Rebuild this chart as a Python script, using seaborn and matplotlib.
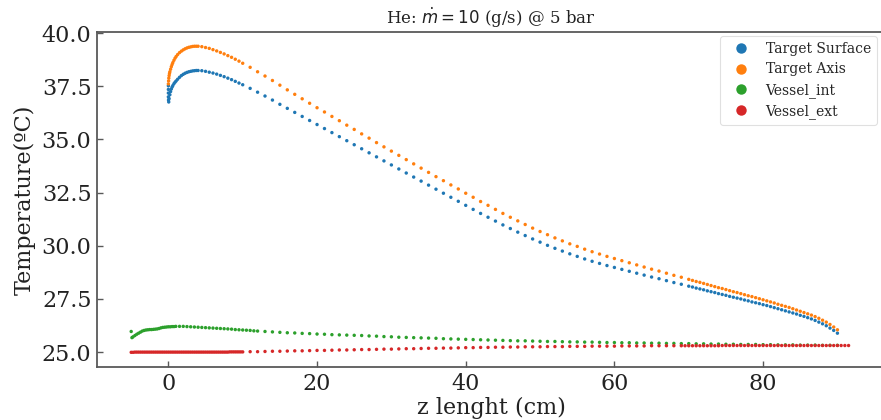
import matplotlib
matplotlib.use("Agg")
import matplotlib.pyplot as plt
import seaborn as sns
import pandas as pd

# ---------------- data ----------------
labels = ["Target Surface", "Target Axis", "Vessel_int", "Vessel_ext"]
colors = ["#1f77b4", "#ff7f0e", "#2ca02c", "#d62728"]

surface_z = [0, 0, 0, 0, 0.02, 0.05, 0.1, 0.2, 0.3, 0.4, 0.5, 0.6, 0.75, 0.9, 1.05,
             1.25, 1.5, 1.75, 2.0, 2.25, 2.5, 2.75, 3.0, 3.25, 3.5, 3.75,
             4, 4.5, 5, 5.5, 6, 6.5, 7, 7.5, 8, 8.5, 9, 9.5, 10,
             11, 12, 13, 14, 15, 16, 17, 18, 19, 20, 21, 22, 23, 24, 25, 26, 27, 28, 29, 30,
             31, 32, 33, 34, 35, 36, 37, 38, 39, 40, 41, 42, 43, 44, 45, 46, 47, 48, 49, 50,
             51, 52, 53, 54, 55, 56, 57, 58, 59, 60, 61, 62, 63, 64, 65, 66, 67, 68, 69, 70,
             70.5, 71, 71.5, 72, 72.5, 73, 73.5, 74, 74.5, 75, 75.5, 76, 76.5, 77, 77.5, 78,
             78.5, 79, 79.5, 80, 80.5, 81, 81.5, 82, 82.5, 83, 83.5, 84, 84.5, 85, 85.5, 86,
             86.5, 87, 87.5, 88, 88.5, 89, 89.5, 90]
surface_T = [37.52, 37.35, 37.18, 37.00, 36.85, 36.76, 36.92, 37.10, 37.25, 37.37, 37.46, 37.53,
             37.62, 37.69, 37.75, 37.83, 37.92, 38.00, 38.06, 38.11, 38.15, 38.18, 38.20, 38.22,
             38.23, 38.24,
             38.24, 38.23, 38.20, 38.16, 38.12, 38.07, 38.01, 37.95, 37.88, 37.81, 37.73, 37.65, 37.57,
             37.40, 37.22, 37.04, 36.85, 36.65, 36.46, 36.27, 36.08, 35.89, 35.70, 35.51, 35.32,
             35.13, 34.94, 34.75, 34.56, 34.37, 34.18, 33.99, 33.80,
             33.61, 33.42, 33.23, 33.04, 32.85, 32.66, 32.47, 32.28, 32.09, 31.90, 31.71, 31.52,
             31.34, 31.16, 30.98, 30.81, 30.64, 30.48, 30.32, 30.17,
             30.02, 29.88, 29.75, 29.62, 29.50, 29.38, 29.27, 29.17, 29.07, 28.98, 28.89, 28.80,
             28.71, 28.62, 28.53, 28.45, 28.36, 28.27, 28.19, 28.10,
             28.06, 28.01, 27.97, 27.93, 27.88, 27.84, 27.80, 27.75, 27.71, 27.67, 27.62, 27.58,
             27.54, 27.50, 27.45, 27.41, 27.36, 27.32, 27.28, 27.23, 27.19, 27.14, 27.09, 27.04,
             26.99, 26.94, 26.89, 26.84, 26.79, 26.73, 26.68, 26.62, 26.56, 26.49, 26.41, 26.33,
             26.24, 26.13, 26.02, 25.89]

axis_z = [0, 0.03, 0.06, 0.1, 0.15, 0.2, 0.3, 0.4, 0.5, 0.6, 0.75, 0.9, 1.05, 1.25, 1.5,
          1.75, 2.0, 2.25, 2.5, 2.75, 3.0, 3.25, 3.5, 3.75,
          4, 4.5, 5, 5.5, 6, 6.5, 7, 7.5, 8, 8.5, 9, 9.5, 10,
          11, 12, 13, 14, 15, 16, 17, 18, 19, 20, 21, 22, 23, 24, 25, 26, 27, 28, 29, 30,
          31, 32, 33, 34, 35, 36, 37, 38, 39, 40, 41, 42, 43, 44, 45, 46, 47, 48, 49, 50,
          51, 52, 53, 54, 55, 56, 57, 58, 59, 60, 61, 62, 63, 64, 65, 66, 67, 68, 69, 70,
          70.5, 71, 71.5, 72, 72.5, 73, 73.5, 74, 74.5, 75, 75.5, 76, 76.5, 77, 77.5, 78,
          78.5, 79, 79.5, 80, 80.5, 81, 81.5, 82, 82.5, 83, 83.5, 84, 84.5, 85, 85.5, 86,
          86.5, 87, 87.5, 88, 88.5, 89, 89.5, 90]
axis_T = [37.61, 37.75, 37.88, 38.00, 38.10, 38.18, 38.30, 38.42, 38.52, 38.61, 38.72, 38.82,
          38.90, 38.99, 39.08, 39.15, 39.21, 39.26, 39.30, 39.33, 39.35, 39.37, 39.38, 39.38,
          39.38, 39.36, 39.32, 39.28, 39.22, 39.16, 39.09, 39.02, 38.94, 38.86, 38.77, 38.68, 38.58,
          38.39, 38.18, 37.98, 37.77, 37.55, 37.33, 37.12, 36.91, 36.70, 36.49, 36.29, 36.08,
          35.88, 35.67, 35.47, 35.26, 35.06, 34.85, 34.65, 34.45,
          34.25, 34.05, 33.85, 33.65, 33.45, 33.25, 33.06, 32.86, 32.67, 32.47, 32.28, 32.08,
          31.90, 31.71, 31.52, 31.34, 31.17, 31.00, 30.83, 30.67,
          30.52, 30.37, 30.23, 30.09, 29.97, 29.84, 29.72, 29.61, 29.50, 29.40, 29.30, 29.20,
          29.10, 29.00, 28.90, 28.81, 28.71, 28.61, 28.52, 28.42,
          28.37, 28.32, 28.28, 28.23, 28.18, 28.13, 28.08, 28.03, 27.99, 27.94, 27.89, 27.84,
          27.80, 27.75, 27.70, 27.65, 27.61, 27.56, 27.51, 27.46, 27.41, 27.36, 27.31, 27.25,
          27.20, 27.15, 27.10, 27.04, 26.98, 26.92, 26.86, 26.80, 26.74, 26.67, 26.59, 26.50,
          26.41, 26.30, 26.18, 26.05]

vint_z = [-5.0, -4.9, -4.75, -4.5, -4.25, -4.0, -3.75, -3.5, -3.25, -3.0,
          -2.75, -2.5, -2.25, -2.0, -1.75, -1.5, -1.25, -1.0, -0.75, -0.5,
          -0.25, 0, 0.25, 0.5, 0.75, 1.0, 1.5, 2.0, 2.5, 3.0,
          3.5, 4, 4.5, 5, 5.5, 6, 6.5, 7, 7.5, 8,
          8.5, 9, 9.5, 10, 10.5, 11, 11.5, 12, 13, 14,
          15, 16, 17, 18, 19, 20, 21, 22, 23, 24,
          25, 26, 27, 28, 29, 30, 31, 32, 33, 34,
          35, 36, 37, 38, 39, 40, 41, 42, 43, 44,
          45, 46, 47, 48, 49, 50, 51, 52, 53, 54,
          55, 56, 57, 58, 59, 60, 61, 62, 63, 64,
          65, 66, 67, 68, 69, 70, 71, 72, 73, 74,
          75, 76, 77, 78, 79, 80, 81, 82, 83, 84,
          85, 86, 87, 88, 89, 90]
vint_T = [25.97, 25.68, 25.72, 25.78, 25.84, 25.89, 25.94, 25.99, 26.02, 26.04,
          26.05, 26.06, 26.06, 26.07, 26.08, 26.09, 26.11, 26.14, 26.16, 26.17,
          26.18, 26.19, 26.19, 26.20, 26.20, 26.21, 26.21, 26.21, 26.20, 26.19,
          26.18, 26.17, 26.16, 26.15, 26.14, 26.13, 26.12, 26.11, 26.10, 26.09,
          26.08, 26.06, 26.05, 26.04, 26.03, 26.02, 26.00, 25.99, 25.97, 25.95,
          25.93, 25.91, 25.90, 25.88, 25.87, 25.85, 25.84, 25.82, 25.81, 25.80,
          25.79, 25.78, 25.76, 25.75, 25.73, 25.72, 25.70, 25.69, 25.68, 25.67,
          25.66, 25.65, 25.63, 25.62, 25.61, 25.60, 25.59, 25.58, 25.57, 25.56,
          25.55, 25.54, 25.53, 25.53, 25.52, 25.51, 25.50, 25.50, 25.49, 25.48,
          25.48, 25.47, 25.47, 25.46, 25.45, 25.45, 25.44, 25.44, 25.43, 25.43,
          25.42, 25.42, 25.41, 25.41, 25.40, 25.40, 25.39, 25.39, 25.38, 25.38,
          25.37, 25.37, 25.36, 25.36, 25.36, 25.35, 25.35, 25.34, 25.34, 25.34,
          25.33, 25.33, 25.33, 25.32, 25.32, 25.32]

vext_z = [-5.0, -4.75, -4.5, -4.25, -4.0, -3.75, -3.5, -3.25, -3.0, -2.75, -2.5, -2.25,
          -2.0, -1.75, -1.5, -1.25, -1.0, -0.75, -0.5, -0.25, 0, 0.25, 0.5, 0.75,
          1.0, 1.25, 1.5, 1.75, 2.0, 2.25, 2.5, 2.75, 3.0, 3.25, 3.5, 3.75,
          4.0, 4.25, 4.5, 4.75, 5.0, 5.25, 5.5, 5.75, 6.0, 6.25, 6.5, 6.75,
          7.0, 7.25, 7.5, 7.75, 8.0, 8.25, 8.5, 8.75, 9.0, 9.25, 9.5, 9.75,
          10.0,
          11, 12, 13, 14, 15, 16, 17, 18, 19, 20,
          21, 22, 23, 24, 25, 26, 27, 28, 29, 30,
          31, 32, 33, 34, 35, 36, 37, 38, 39, 40,
          41, 42, 43, 44, 45, 46, 47, 48, 49, 50,
          51, 52, 53, 54, 55, 56, 57, 58, 59, 60,
          61, 62, 63, 64, 65, 66, 67, 68, 69,
          69.5, 70, 70.5, 71, 71.5, 72, 72.5, 73, 73.5, 74,
          74.5, 75, 75.5, 76, 76.5, 77, 77.5, 78, 78.5, 79,
          79.5, 80, 80.5, 81, 81.5, 82, 82.5, 83, 83.5, 84,
          84.5, 85, 85.5, 86, 86.5, 87, 87.5, 88, 88.5, 89,
          89.5, 90, 90.5, 91, 91.5]
vext_T = [24.99, 24.99, 25.00, 25.00, 25.00, 25.00, 25.00, 25.00, 25.00, 25.00, 25.00, 25.00,
          25.00, 25.00, 25.00, 25.00, 25.00, 25.00, 25.00, 25.00, 25.00, 25.00, 25.00, 25.00,
          25.00, 25.00, 25.00, 25.00, 25.00, 25.00, 25.00, 25.00, 25.00, 25.00, 25.00, 25.00,
          25.00, 25.00, 25.00, 25.00, 25.00, 25.00, 25.00, 25.00, 25.00, 25.00, 25.00, 25.00,
          25.00, 25.00, 25.00, 25.00, 25.00, 25.01, 25.01, 25.01, 25.01, 25.01, 25.01, 25.01,
          25.01,
          25.02, 25.02, 25.03, 25.04, 25.04, 25.05, 25.06, 25.06, 25.07, 25.08,
          25.08, 25.09, 25.10, 25.10, 25.11, 25.12, 25.12, 25.13, 25.14, 25.14,
          25.15, 25.16, 25.16, 25.17, 25.18, 25.18, 25.19, 25.19, 25.20, 25.21,
          25.21, 25.22, 25.22, 25.23, 25.23, 25.24, 25.24, 25.25, 25.25, 25.25,
          25.26, 25.26, 25.26, 25.27, 25.27, 25.27, 25.28, 25.28, 25.28, 25.28,
          25.29, 25.29, 25.29, 25.29, 25.30, 25.30, 25.30, 25.30, 25.30,
          25.30, 25.30, 25.30, 25.30, 25.30, 25.30, 25.30, 25.30, 25.30, 25.30,
          25.31, 25.31, 25.31, 25.31, 25.31, 25.31, 25.31, 25.31, 25.31, 25.31,
          25.31, 25.31, 25.31, 25.31, 25.31, 25.31, 25.31, 25.31, 25.31, 25.31,
          25.31, 25.31, 25.31, 25.31, 25.31, 25.31, 25.31, 25.31, 25.31, 25.31,
          25.31, 25.31, 25.31, 25.31, 25.31]

title = r"He: $\dot{m} = 10$ (g/s) @ 5 bar"
xlabel = "z lenght (cm)"
ylabel = "Temperature(ºC)"
yticks = [25.0, 27.5, 30.0, 32.5, 35.0, 37.5, 40.0]
xticks = [0, 20, 40, 60, 80]

# ---------------- build table ----------------
frames = []
for name, z, T in zip(labels, [surface_z, axis_z, vint_z, vext_z],
                      [surface_T, axis_T, vint_T, vext_T]):
    frames.append(pd.DataFrame({"z": z, "T": T, "series": name}))
df = pd.concat(frames, ignore_index=True)

# ---------------- plot ----------------
sns.set_style("white")
plt.rcParams["font.family"] = ["DejaVu Serif"]
plt.rcParams["mathtext.fontset"] = "dejavusans"

fig = plt.figure(figsize=(8.81, 4.20), dpi=100)
ax = fig.add_axes([97 / 881, 53 / 420, (885 - 97) / 881, (367 - 32) / 420])

sns.scatterplot(data=df, x="z", y="T", hue="series", hue_order=labels,
                palette=colors, s=6, linewidth=0, ax=ax, legend=True)

ax.set_xlim(-9.6, 96.4)
ax.set_ylim(24.3, 40.05)
ax.set_xticks(xticks)
ax.set_yticks(yticks)
ax.set_yticklabels([f"{v:.1f}" for v in yticks])
ax.tick_params(direction="in", length=4.5, width=1, colors="0.35",
               labelcolor="#222222", labelsize=16, bottom=True, left=True,
               top=False, right=False, pad=4)
for sp in ax.spines.values():
    sp.set_color("0.35")
    sp.set_linewidth(1.3)

ax.set_xlabel(xlabel, fontsize=16, color="#222222", labelpad=2)
ax.set_ylabel(ylabel, fontsize=16, color="#222222", labelpad=4)
ax.set_title(title, fontsize=12, color="#222222", pad=6)

handles, labs = ax.get_legend_handles_labels()
leg = ax.legend(handles, labs, loc="upper right", fontsize=10, frameon=True,
                markerscale=1.0, handletextpad=0.8, borderpad=0.45,
                labelspacing=0.45, borderaxespad=0.0,
                bbox_to_anchor=(877 / 881, 1 - 36 / 420),
                bbox_transform=fig.transFigure)
for h in leg.legend_handles:
    try:
        h.set_markersize(7.5)
    except Exception:
        h.set_sizes([50])
leg.get_frame().set_edgecolor("0.85")
leg.get_frame().set_linewidth(0.8)

fig.savefig("out.png", dpi=100)
